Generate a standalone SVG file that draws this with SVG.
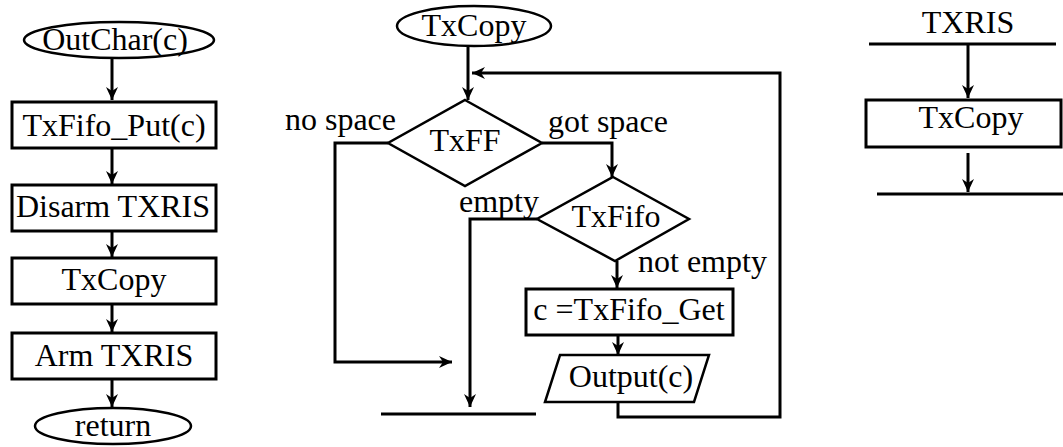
<svg xmlns="http://www.w3.org/2000/svg" width="1063" height="447" viewBox="0 0 1063 447" font-family="'Liberation Serif', 'DejaVu Serif', serif" font-size="32">
<style>
.m{text-anchor:middle}
.e{text-anchor:end}
.s{fill:#fff;stroke:#000;stroke-width:3}
.o{fill:#fff;stroke:#000;stroke-width:2.5}
.c{fill:none;stroke:#000;stroke-width:3}
</style>
<defs>
<marker id="ah" markerUnits="userSpaceOnUse" viewBox="-14 -7 15 14" refX="0" refY="0" markerWidth="15" markerHeight="14" orient="auto">
<path d="M0,0 L-13,-6 L-9,0 L-13,6 Z" fill="#000"/>
</marker>
</defs>
<rect width="1063" height="447" fill="#fff"/>
<g id="connectors">
<path class="c" d="M112,58 V100" marker-end="url(#ah)"/>
<path class="c" d="M112,148 V184" marker-end="url(#ah)"/>
<path class="c" d="M112,232 V257" marker-end="url(#ah)"/>
<path class="c" d="M112,305 V332" marker-end="url(#ah)"/>
<path class="c" d="M112,380 V407" marker-end="url(#ah)"/>
<path class="c" d="M468,47 V100" marker-end="url(#ah)"/>
<path class="c" d="M618,402 V417 H780 V73 H472" marker-end="url(#ah)"/>
<path class="c" d="M388,143 H335 V362 H452" marker-end="url(#ah)"/>
<path class="c" d="M542,143 H612 V177" marker-end="url(#ah)"/>
<path class="c" d="M537,219 H470 V407" marker-end="url(#ah)"/>
<path class="c" d="M617,261 V288" marker-end="url(#ah)"/>
<path class="c" d="M618,332 V355" marker-end="url(#ah)"/>
<path class="c" d="M381,414 H536"/>
<path class="c" d="M869,44 H1056"/>
<path class="c" d="M968,44 V98" marker-end="url(#ah)"/>
<path class="c" d="M968,153 V192" marker-end="url(#ah)"/>
<path class="c" d="M877,194 H1063"/>
</g>
<g id="outchar"><ellipse class="o" cx="119" cy="40" rx="95" ry="18"/><text class="m" x="115" y="50">OutChar(c)</text></g>
<g id="txfifo-put"><rect class="s" x="12" y="102" width="204" height="46"/><text class="m" x="114" y="136">TxFifo_Put(c)</text></g>
<g id="disarm"><rect class="s" x="12" y="185" width="204" height="46"/><text class="m" x="113" y="217">Disarm TXRIS</text></g>
<g id="txcopy-call"><rect class="s" x="12" y="258" width="204" height="46"/><text class="m" x="114" y="290">TxCopy</text></g>
<g id="arm"><rect class="s" x="12" y="333" width="204" height="46"/><text class="m" x="114" y="366">Arm TXRIS</text></g>
<g id="return"><ellipse class="o" cx="113" cy="426" rx="78" ry="18"/><text class="m" x="113" y="436">return</text></g>
<g id="txcopy-start"><ellipse class="o" cx="474" cy="26" rx="77" ry="20"/><text class="m" x="474" y="36">TxCopy</text></g>
<g id="txff"><polygon class="o" points="465,100 542,143 465,186 388,143"/><text class="m" x="465" y="151">TxFF</text>
<text class="e" x="396" y="130">no space</text><text x="548" y="132">got space</text></g>
<g id="txfifo-dec"><polygon class="o" points="613,177 689,219 615,261 537,219"/><text class="m" x="616" y="227">TxFifo</text>
<text class="e" x="539" y="212">empty</text><text x="638" y="272">not empty</text></g>
<g id="get"><rect class="s" x="526" y="289" width="207" height="46"/><text class="m" x="629" y="320">c =TxFifo_Get</text></g>
<g id="output"><polygon class="o" points="560,355 709,355 694,402 545,402"/><text class="m" x="631" y="387">Output(c)</text></g>
<g id="txris"><text class="m" x="968" y="33">TXRIS</text></g>
<g id="txcopy-isr"><rect class="s" x="866" y="100" width="195" height="47"/><text class="m" x="971" y="128">TxCopy</text></g>
</svg>
